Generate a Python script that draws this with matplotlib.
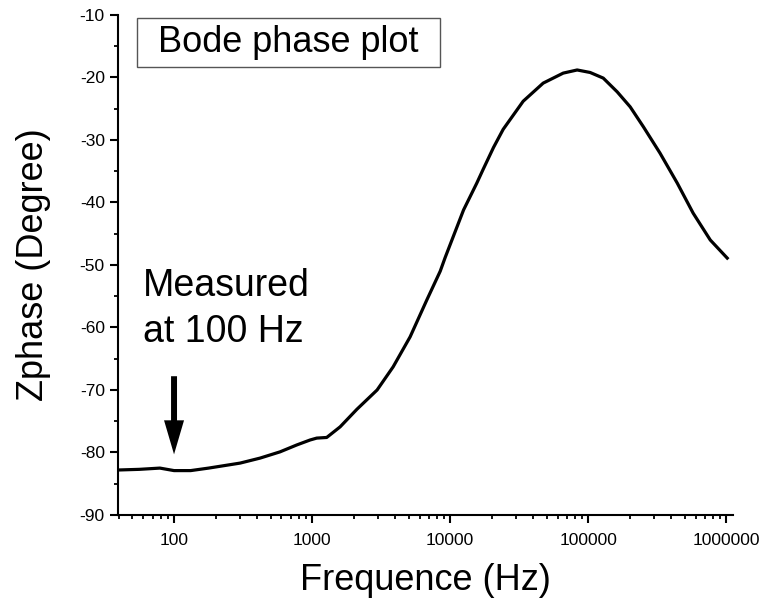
import numpy as np
import matplotlib
matplotlib.use("Agg")
import matplotlib.pyplot as plt
from matplotlib.patches import Rectangle
from matplotlib.ticker import MultipleLocator, LogLocator, FixedLocator, NullFormatter

plt.rcParams['font.family'] = ['Liberation Sans', 'DejaVu Sans']
plt.rcParams['axes.unicode_minus'] = False

# 读图得到的数据：频率(Hz) 和 相位(度)
freq = [40, 56, 79, 100, 132, 178, 301, 420, 586, 774, 968, 1081, 1276,
        1596, 2109, 2958, 3864, 5129, 6776, 8472, 9204, 12503, 15596,
        17338, 20606, 24210, 33810, 47206, 65917, 83176, 103276, 128529,
        162181, 201372, 251189, 331131, 441570, 575440, 765597, 1016230]
phase = [-82.8, -82.7, -82.5, -82.9, -82.9, -82.5, -81.7, -80.9, -79.9, -78.8,
         -78.0, -77.7, -77.6, -75.9, -73.1, -70.0, -66.3, -61.5, -55.6, -51.0,
         -48.8, -41.2, -36.9, -34.7, -31.2, -28.3, -23.8, -20.9, -19.3, -18.8,
         -19.2, -20.1, -22.3, -24.7, -27.9, -32.1, -36.9, -41.7, -46.0, -48.9]

x_ticks = [100, 1000, 10000, 100000, 1000000]
x_ticklabels = ["100", "1000", "10000", "100000", "1000000"]

fig = plt.figure(figsize=(7.64, 6.04), dpi=100)
ax = fig.add_axes([0.1545, 0.1474, 0.805, 0.8278])

ax.plot(freq, phase, color="black", lw=2.3, solid_joinstyle="round")

ax.set_xscale("log")
ax.set_xlim(39.3, 1.12e6)
ax.set_ylim(-90, -10)

ax.xaxis.set_major_locator(FixedLocator(x_ticks))
ax.set_xticklabels(x_ticklabels)
ax.xaxis.set_minor_locator(LogLocator(base=10, subs=np.arange(2, 10)))
ax.xaxis.set_minor_formatter(NullFormatter())
ax.yaxis.set_major_locator(MultipleLocator(10))
ax.yaxis.set_minor_locator(MultipleLocator(5))

for s in ["top", "right"]:
    ax.spines[s].set_visible(False)
for s in ["left", "bottom"]:
    ax.spines[s].set_linewidth(1.5)

ax.tick_params(which="major", direction="out", length=5.5, width=1.5,
               labelsize=12.5, pad=4)
ax.tick_params(axis="x", which="major", pad=7.5)
ax.tick_params(which="minor", direction="out", length=3, width=1.3)

ax.set_xlabel("Frequence (Hz)", fontsize=26, labelpad=11)
ax.set_ylabel("Zphase (Degree)", fontsize=26, labelpad=21)

# 标题框
ax.add_patch(Rectangle((0.0309, 0.896), 0.4927, 0.098, transform=ax.transAxes,
                       fc="white", ec="#555555", lw=1, clip_on=False))
ax.text(0.2764, 0.945, "Bode phase plot", transform=ax.transAxes, fontsize=26,
        ha="center", va="center")

ax.text(0.0407, 0.494, "Measured\nat 100 Hz", transform=ax.transAxes, fontsize=27,
        ha="left", va="top", linespacing=1.36)

ax.annotate("", xy=(100, -80.3), xytext=(100, -67.8),
            arrowprops=dict(arrowstyle="simple,head_length=2.45,head_width=1.44,tail_width=0.43",
                            fc="black", ec="none", lw=0, shrinkA=0, shrinkB=0,
                            mutation_scale=10))

fig.savefig("out.png", dpi=100)
